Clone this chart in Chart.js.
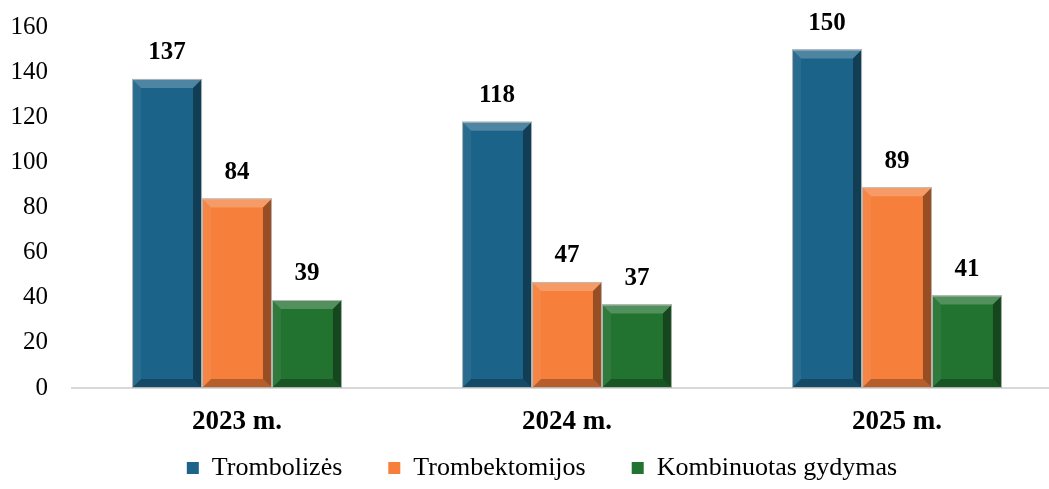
<!DOCTYPE html>
<html>
<head>
<meta charset="utf-8">
<script src="https://cdn.jsdelivr.net/npm/chart.js@4"></script>
<style>
    html, body { margin: 0; padding: 0; background: #fff; overflow: hidden; }
    #wrap { width: 1062px; height: 489px; position: relative; }
</style>
</head>
<body>
<div id="wrap"><canvas id="chart"></canvas></div>
<script>
    var CATEGORIES = ['2023 m.', '2024 m.', '2025 m.'];
    var SERIES_NAMES = ['Trombolizės', 'Trombektomijos', 'Kombinuotas gydymas'];
    var TROMBOLIZES = [137, 118, 150];
    var TROMBEKTOMIJOS = [84, 47, 89];
    var KOMBINUOTAS = [39, 37, 41];
    var Y_TICKS = [0, 20, 40, 60, 80, 100, 120, 140, 160];

    var COLORS = ['#1c6389', '#f57f3b', '#227230'];
    var FONT = '"Liberation Serif", "Times New Roman", serif';

    // Bevelled bar look, drawn over the plain bars
    var bevelPlugin = {
        id: 'bevel',
        afterDatasetsDraw: function (chart) {
            var ctx = chart.ctx;
            chart.data.datasets.forEach(function (ds, i) {
                var meta = chart.getDatasetMeta(i);
                meta.data.forEach(function (bar) {
                    var p = bar.getProps(['x', 'y', 'base', 'width'], true);
                    var l = p.x - p.width / 2, r = p.x + p.width / 2;
                    var t = p.y, b = p.base, s = 9;
                    function poly(pts, fill) {
                        ctx.beginPath();
                        ctx.moveTo(pts[0][0], pts[0][1]);
                        for (var k = 1; k < pts.length; k++) ctx.lineTo(pts[k][0], pts[k][1]);
                        ctx.closePath();
                        ctx.fillStyle = fill;
                        ctx.fill();
                    }
                    ctx.save();
                    poly([[l, t], [r, t], [r - s, t + s], [l + s, t + s]], 'rgba(255,255,255,0.22)');
                    poly([[r, t], [r, b], [r - s, b - s], [r - s, t + s]], 'rgba(0,0,0,0.38)');
                    poly([[l, b], [r, b], [r - s, b - s], [l + s, b - s]], 'rgba(0,0,0,0.25)');
                    poly([[l, t], [l + s, t + s], [l + s, b - s], [l, b]], 'rgba(255,255,255,0.06)');
                    ctx.strokeStyle = 'rgba(190,190,190,0.9)';
                    ctx.lineWidth = 1;
                    ctx.strokeRect(l + 0.5, t + 0.5, p.width - 1, b - t - 1);
                    ctx.restore();
                });
            });
        }
    };

    // Value labels above bars
    var valueLabels = {
        id: 'valueLabels',
        afterDatasetsDraw: function (chart) {
            var ctx = chart.ctx;
            ctx.save();
            ctx.font = 'bold 25px ' + FONT;
            ctx.fillStyle = '#000';
            ctx.textAlign = 'center';
            ctx.textBaseline = 'middle';
            chart.data.datasets.forEach(function (ds, i) {
                chart.getDatasetMeta(i).data.forEach(function (bar, j) {
                    ctx.fillText(ds.data[j], bar.x, bar.y - 26);
                });
            });
            ctx.restore();
        }
    };

    // Axis boxes are kept small for layout; let their labels draw past them
    var labelRoom = {
        id: 'labelRoom',
        afterLayout: function (chart) {
            chart.scales.x.bottom = chart.height;
            chart.scales.y.left = 0;
        }
    };

    var seriesData = [TROMBOLIZES, TROMBEKTOMIJOS, KOMBINUOTAS];

    new Chart(document.getElementById('chart'), {
        type: 'bar',
        data: {
            labels: CATEGORIES,
            datasets: SERIES_NAMES.map(function (name, i) {
                return {
                    label: name,
                    data: seriesData[i],
                    backgroundColor: COLORS[i],
                    borderWidth: 0,
                    categoryPercentage: 0.636,
                    barPercentage: 1.0
                };
            })
        },
        options: {
            responsive: true,
            maintainAspectRatio: false,
            animation: false,
            layout: { padding: { top: 27, left: 22, right: 0, bottom: -2 } },
            plugins: {
                tooltip: { enabled: false },
                legend: {
                    position: 'bottom',
                    labels: {
                        color: '#000',
                        font: { family: FONT, size: 26 },
                        boxWidth: 12,
                        boxHeight: 12,
                        padding: 46
                    }
                }
            },
            scales: {
                x: {
                    grid: { display: false, drawTicks: false },
                    border: { color: '#d9d9d9', width: 2 },
                    ticks: {
                        color: '#000',
                        font: { family: FONT, size: 27, weight: 'bold' },
                        padding: 18
                    },
                    afterFit: function (axis) { axis.height = 21; }
                },
                y: {
                    min: 0,
                    max: 160,
                    afterBuildTicks: function (axis) {
                        axis.ticks = Y_TICKS.map(function (v) { return { value: v }; });
                    },
                    grid: { display: false, drawTicks: false },
                    border: { display: false },
                    ticks: {
                        color: '#000',
                        font: { family: FONT, size: 25 },
                        padding: 24
                    },
                    afterFit: function (axis) {
                        axis.width = 50;
                        axis.paddingTop = 0;
                        axis.paddingBottom = 0;
                    }
                }
            }
        },
        plugins: [bevelPlugin, valueLabels, labelRoom]
    });
</script>
</body>
</html>
